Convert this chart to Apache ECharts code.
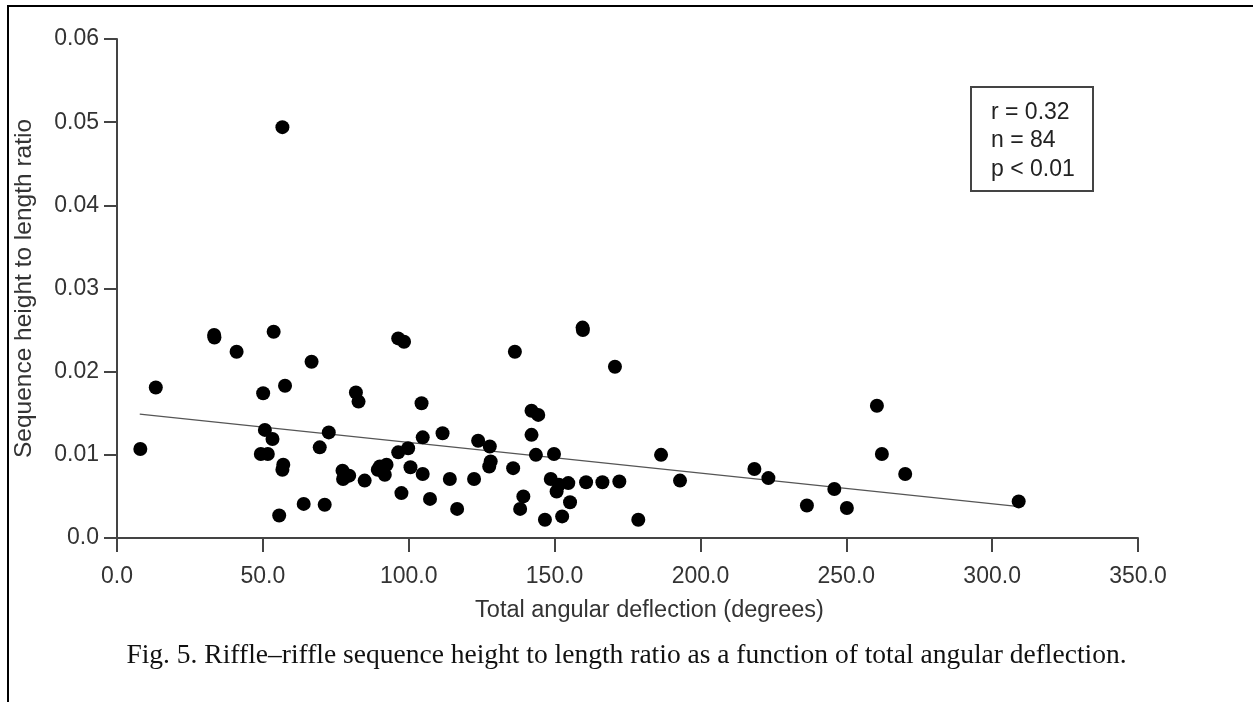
<!DOCTYPE html>
<html>
<head>
<meta charset="utf-8">
<script src="https://cdn.jsdelivr.net/npm/echarts@6/dist/echarts.min.js"></script>
<style>
  html, body { margin: 0; padding: 0; background: #fff; }
  #chart { width: 1253px; height: 702px; }
</style>
</head>
<body>
<div id="chart"></div>
<script>
// total angular deflection (degrees) and sequence height to length ratio
var deflection = [8.0, 13.3, 33.3, 33.4, 41.0, 53.7, 50.1, 57.6, 66.7, 50.7, 53.3, 49.3, 51.7, 57.0, 56.7, 55.6,
  64.0, 71.2, 69.5, 72.6, 81.9, 82.8, 77.3, 77.5, 79.6, 84.9, 90.1, 92.4, 91.8, 89.4, 96.4, 98.4,
  96.4, 99.8, 97.5, 100.6, 104.4, 104.8, 104.8, 107.3, 111.6, 114.1, 116.6, 122.4, 123.8, 127.8, 128.1, 127.6,
  135.8, 136.4, 142.1, 144.4, 142.1, 143.6, 149.8, 139.3, 138.2, 146.7, 152.6, 155.3, 148.7, 150.7, 151.5, 154.7,
  160.8, 166.4, 172.2, 159.6, 159.7, 170.7, 178.7, 186.5, 193.0, 218.5, 223.3, 236.5, 245.9, 250.2, 260.5, 262.2,
  270.2, 309.1, 56.7]
var ratio = [0.0107, 0.0181, 0.0244, 0.0241, 0.0224, 0.0248, 0.0174, 0.0183, 0.0212, 0.0130, 0.0119, 0.0101, 0.0101, 0.0088, 0.0082, 0.0027,
  0.0041, 0.0040, 0.0109, 0.0127, 0.0175, 0.0164, 0.0081, 0.0071, 0.0075, 0.0069, 0.0086, 0.0088, 0.0076, 0.0082, 0.0240, 0.0236,
  0.0103, 0.0108, 0.0054, 0.0085, 0.0162, 0.0121, 0.0077, 0.0047, 0.0126, 0.0071, 0.0035, 0.0071, 0.0117, 0.0110, 0.0092, 0.0086,
  0.0084, 0.0224, 0.0153, 0.0148, 0.0124, 0.0100, 0.0101, 0.0050, 0.0035, 0.0022, 0.0026, 0.0043, 0.0071, 0.0056, 0.0064, 0.0066,
  0.0067, 0.0067, 0.0068, 0.0253, 0.0250, 0.0206, 0.0022, 0.0100, 0.0069, 0.0083, 0.0072, 0.0039, 0.0059, 0.0036, 0.0159, 0.0101,
  0.0077, 0.0044, 0.0494]

// fitted line end points
var fitX = [7.8, 308.5]
var fitY = [0.0149, 0.0038]

var yTickLabels = ['0.0', '0.01', '0.02', '0.03', '0.04', '0.05', '0.06']
var statLines = ['r = 0.32', 'n = 84', 'p < 0.01']
var caption = 'Fig. 5. Riffle\u2013riffle sequence height to length ratio as a function of total angular deflection.'

var points = deflection.map(function (x, i) { return [x, ratio[i]] })
var fit = fitX.map(function (x, i) { return [x, fitY[i]] })

var chart = echarts.init(document.getElementById('chart'))
var font = '"Liberation Sans", Arial, sans-serif'

chart.setOption({
  backgroundColor: '#fff',
  animation: false,
  grid: { left: 117, right: 115, top: 39, bottom: 164 },
  xAxis: {
    type: 'value',
    min: 0,
    max: 350,
    interval: 50,
    name: 'Total angular deflection (degrees)',
    nameLocation: 'middle',
    nameGap: 61,
    nameTextStyle: { color: '#333', fontSize: 23.5, fontFamily: font, padding: [0, 0, 0, 44] },
    splitLine: { show: false },
    axisLine: { lineStyle: { color: '#444', width: 2 } },
    axisTick: { length: 14, lineStyle: { color: '#444', width: 2 } },
    axisLabel: {
      margin: 27,
      color: '#333',
      fontSize: 23,
      fontFamily: font,
      formatter: function (v) { return v.toFixed(1) }
    }
  },
  yAxis: {
    type: 'value',
    min: 0,
    max: 0.06,
    interval: 0.01,
    name: 'Sequence height to length ratio',
    nameLocation: 'middle',
    nameGap: 80,
    nameTextStyle: { color: '#333', fontSize: 24.5, fontFamily: font },
    splitLine: { show: false },
    axisLine: { lineStyle: { color: '#444', width: 2 } },
    axisTick: { length: 13, lineStyle: { color: '#444', width: 2 } },
    axisLabel: {
      margin: 18,
      color: '#333',
      fontSize: 23,
      fontFamily: font,
      formatter: function (v, i) { return yTickLabels[i] }
    }
  },
  series: [
    {
      type: 'line',
      data: fit,
      symbol: 'none',
      lineStyle: { color: '#555', width: 1.3 },
      z: 1
    },
    {
      type: 'scatter',
      data: points,
      symbol: 'circle',
      symbolSize: 14,
      itemStyle: { color: '#000', opacity: 1 },
      z: 2
    }
  ],
  graphic: [
    {
      type: 'polyline',
      shape: { points: [[8, 702], [8, 6], [1253, 6]] },
      style: { stroke: '#000', lineWidth: 2, fill: null }
    },
    {
      type: 'rect',
      shape: { x: 971, y: 87, width: 122, height: 104 },
      style: { stroke: '#444', lineWidth: 2, fill: '#fff' }
    },
    {
      type: 'text',
      left: 991,
      top: 98,
      style: {
        text: statLines.join('\n'),
        fill: '#222',
        font: '23px ' + font,
        lineHeight: 28.5
      }
    },
    {
      type: 'text',
      left: 'center',
      top: 642,
      style: {
        text: caption,
        fill: '#111',
        font: '27.5px "Liberation Serif", "Times New Roman", serif'
      }
    }
  ]
})
</script>
</body>
</html>
